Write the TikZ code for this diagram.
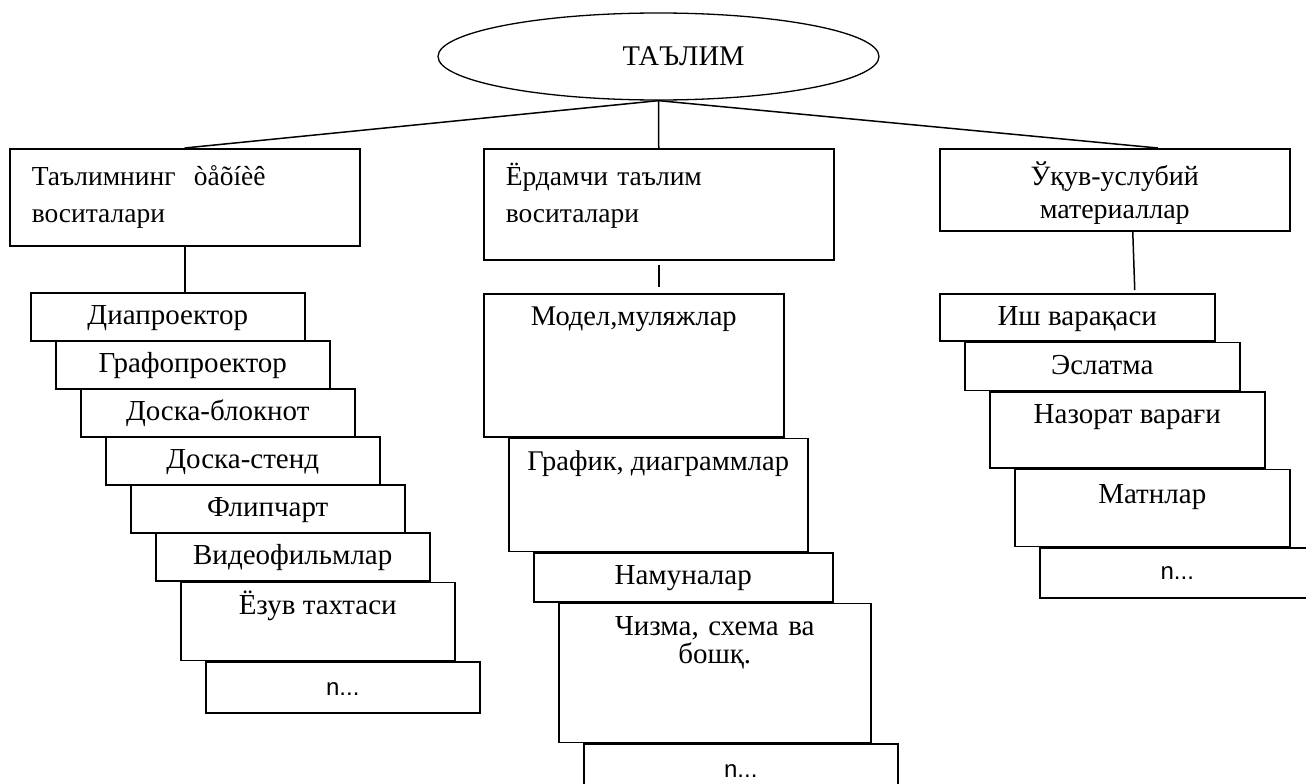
\documentclass[tikz,border=0pt]{standalone}
\usepackage{fontspec}
\setmainfont{Liberation Serif}
\newfontfamily\arialfont{Liberation Sans}
\usepackage{tikz}
\usetikzlibrary{shapes.geometric,positioning,calc}

\newcommand{\uzfont}{\fontsize{27.5}{37}\selectfont}
\newcommand{\stackfont}{\fontsize{29}{33}\selectfont}
\newcommand{\nfont}{\arialfont\fontsize{24}{28}\selectfont}

\tikzset{
    stepbox/.style 2 args={draw, anchor=north west, inner sep=0pt, minimum width=#1,
        text height=32pt, text depth=#2, align=center, font=\stackfont},
    topbox/.style={draw, anchor=north west, inner xsep=22pt, inner ysep=0pt,
        text width=306pt, text height=37pt, font=\uzfont},
    nbox/.style 2 args={draw, anchor=north west, inner sep=0pt, minimum width=#1,
        text height=34pt, text depth=#2, font=\nfont}
}

\begin{document}
\begin{tikzpicture}[x=1pt, y=-1pt, line width=1.5pt]
    \useasboundingbox (0,0) rectangle (1306,784);
    \clip (0,0) rectangle (1306,784);

    % root
    \node [draw, ellipse, line width=1.3pt, minimum width=441pt, minimum height=87pt, inner sep=0pt,
        font=\fontsize{28.5}{33}\selectfont] (root) at (658.5,56.5) {\hspace*{50pt}ТАЪЛИМ};

    % three groups
    \node [topbox, align=left, text depth=60pt] (tools) at (9,148) {Таълимнинг\ \ òåõíèê\\воситалари};
    \node [topbox, align=left, text depth=74pt] (aux) at (483,148) {Ёрдамчи таълим\\воситалари};
    \node [topbox, align=center, text depth=45pt, font=\fontsize{28}{33}\selectfont] (method) at (939,148) {Ўқув-услубий\\материаллар};

    \draw (root.south) -- (tools.north);
    \draw (root.south) -- (aux.north);
    \draw (root.south) -- ([xshift=43pt]method.north);

    % Left stack
    \foreach \i/\lab in {1/Диапроектор, 2/Графопроектор, 3/Доска-блокнот, 4/Доска-стенд, 5/Флипчарт, 6/Видеофильмлар} {
        \node [stepbox={274pt}{16pt}] (d\i) at ({5+25*\i}, {292+48*(\i-1)}) {\lab};
    }
    \node [stepbox={274pt}{46pt}] (d7) at ([xshift=25pt]d6.south west) {Ёзув тахтаси};
    \node [nbox={274pt}{17pt}] (d8) at ([xshift=25pt]d7.south west) {n...};
    \draw (tools.south) -- (tools.south |- d1.north);

    % Middle stack
    \node [stepbox={300pt}{111pt}, font=\fontsize{28.5}{33}\selectfont] (m1) at (483,293) {Модел,муляжлар};
    \node [stepbox={299pt}{81pt}, font=\fontsize{28.5}{33}\selectfont] (m2) at ([xshift=25pt]m1.south west) {График, диаграммлар};
    \node [stepbox={299pt}{17pt}] (m3) at ([xshift=25pt]m2.south west) {Намуналар};
    \node [stepbox={312pt}{107pt}, text width=312pt, font=\fontsize{29}{28}\selectfont] (m4) at ([xshift=25pt]m3.south west) {Чизма, схема ва\\бошқ.};
    \node [nbox={314pt}{20pt}] (m5) at ([xshift=25pt]m4.south west) {n...};
    \draw ([yshift=-4pt]aux.south) -- ([yshift=6pt]aux.south |- m1.north);

    % Right stack
    \node [stepbox={275pt}{15pt}] (r1) at (939,293) {Иш варақаси};
    \node [stepbox={275pt}{16pt}] (r2) at ([xshift=25pt]r1.south west) {Эслатма};
    \node [stepbox={275pt}{44pt}] (r3) at ([xshift=25pt]r2.south west) {Назорат варағи};
    \node [stepbox={275pt}{43pt}, text height=34pt] (r4) at ([xshift=25pt]r3.south west) {Матнлар};
    \node [nbox={275pt}{18pt}, text height=32pt] (r5) at ([xshift=25pt]r4.south west) {n...};
    \draw ([xshift=18pt]method.south) -- ([xshift=20pt,yshift=3pt]method.south |- r1.north);
\end{tikzpicture}
\end{document}
